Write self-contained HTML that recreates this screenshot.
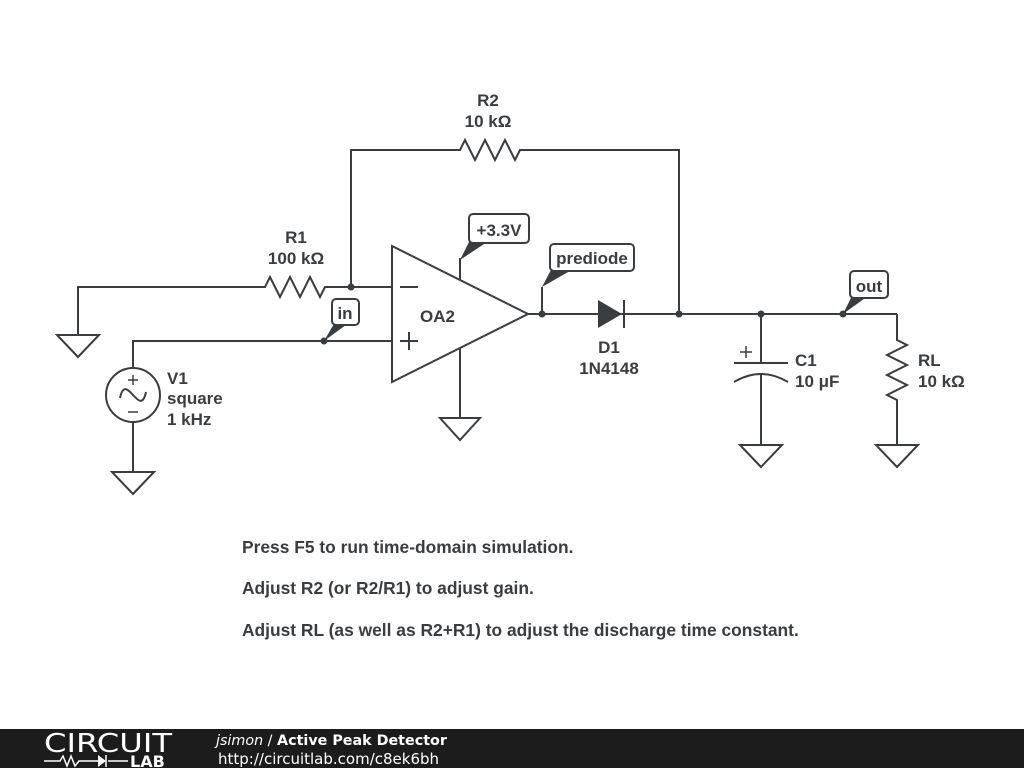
<!DOCTYPE html>
<html><head><style>
body{margin:0;width:1024px;height:768px;background:#fff;overflow:hidden;font-family:"Liberation Sans","DejaVu Sans",sans-serif}
</style></head><body>
<svg width="1024" height="768" viewBox="0 0 1024 768" xmlns="http://www.w3.org/2000/svg">
<g stroke="#3a3d40" stroke-width="2" fill="none">
<polyline points="78,335 78,287 265,287 270,277 280,297 290,277 300,297 310,277 320,297 325,287 392,287"/>
<polygon points="57,335 99,335 78,357"/>
<polyline points="351,287 351,150 460,150 465,140 475,160 485,140 495,160 505,140 515,160 520,150 679,150 679,314"/>
<polyline points="392,341 133,341 133,368"/>
<circle cx="133" cy="395" r="27"/>
<path d="M120,398 C126,370 140,420 146,392"/>
<line x1="128" y1="380" x2="138" y2="380" stroke-width="1.5"/><line x1="133" y1="375" x2="133" y2="385" stroke-width="1.5"/>
<line x1="128" y1="412" x2="138" y2="412" stroke-width="1.5"/>
<line x1="133" y1="422" x2="133" y2="472"/>
<polygon points="112,472 154,472 133,494"/>
<polygon points="392,246 392,382 528,314"/>
<line x1="400" y1="287" x2="418" y2="287"/>
<line x1="400" y1="341" x2="418" y2="341"/><line x1="409" y1="332" x2="409" y2="350"/>
<line x1="460" y1="280" x2="460" y2="258"/>
<line x1="460" y1="348" x2="460" y2="418"/>
<polygon points="440,418 480,418 460,440"/>
<line x1="528" y1="314" x2="897" y2="314"/>
<polyline points="542,314 542,287"/>
<line x1="761" y1="314" x2="761" y2="363"/>
<line x1="734" y1="363" x2="788" y2="363"/>
<path d="M734,382 Q761,366 788,382"/>
<line x1="761" y1="374" x2="761" y2="445"/>
<line x1="740" y1="352" x2="752" y2="352" stroke-width="1.5"/><line x1="746" y1="346" x2="746" y2="358" stroke-width="1.5"/>
<polygon points="740,445 782,445 761,467"/>
<polyline points="897,314 897,340 907,345 887,355 907,365 887,375 907,385 887,395 897,400 897,445"/>
<polygon points="876,445 918,445 897,467"/>
</g>
<polygon points="598,300 598,328 622,314" fill="#3a3d40"/>
<line x1="624" y1="300" x2="624" y2="328" stroke="#3a3d40" stroke-width="2"/>
<g fill="#3a3d40">
<circle cx="351" cy="287" r="3.5"/><circle cx="324" cy="341" r="3.5"/>
<circle cx="542" cy="314" r="3.5"/><circle cx="679" cy="314" r="3.5"/>
<circle cx="761" cy="314" r="3.5"/><circle cx="843" cy="314" r="3.5"/>
<polygon points="324,341 335,322 350,322"/>
<polygon points="460,260 470,240 490,240"/>
<polygon points="542,287 552,268 575,268"/>
<polygon points="843,314 852,296 868,296"/>
</g>
<g fill="#fff" stroke="#3a3d40" stroke-width="2">
<rect x="332" y="299" width="27" height="26" rx="4"/>
<rect x="469" y="214" width="60" height="29" rx="4"/>
<rect x="550" y="244" width="84" height="27" rx="4"/>
<rect x="850" y="271" width="38" height="27" rx="4"/>
</g>
<g fill="#3a3d40" font-weight="bold" font-size="17">
<text x="345" y="319" text-anchor="middle">in</text>
<text x="499" y="236" text-anchor="middle">+3.3V</text>
<text x="592" y="264" text-anchor="middle">prediode</text>
<text x="869" y="292" text-anchor="middle">out</text>
<text x="488" y="106" text-anchor="middle">R2</text>
<text x="488" y="127" text-anchor="middle">10 kΩ</text>
<text x="296" y="243" text-anchor="middle">R1</text>
<text x="296" y="264" text-anchor="middle">100 kΩ</text>
<text x="420" y="322">OA2</text>
<text x="609" y="353" text-anchor="middle">D1</text>
<text x="609" y="374" text-anchor="middle">1N4148</text>
<text x="167" y="384">V1</text>
<text x="167" y="404">square</text>
<text x="167" y="425">1 kHz</text>
<text x="795" y="366">C1</text>
<text x="795" y="387">10 μF</text>
<text x="918" y="366">RL</text>
<text x="918" y="387">10 kΩ</text>
</g>
<g fill="#3a3d40" font-weight="bold" font-size="17.4">
<text x="242" y="553">Press F5 to run time-domain simulation.</text>
<text x="242" y="594">Adjust R2 (or R2/R1) to adjust gain.</text>
<text x="242" y="636">Adjust RL (as well as R2+R1) to adjust the discharge time constant.</text>
</g>
<rect x="0" y="729" width="1024" height="39" fill="#1c1c1c"/>
<text x="44" y="752" fill="#fff" font-size="26" font-family="DejaVu Sans" font-weight="normal" textLength="128" lengthAdjust="spacingAndGlyphs">CIRCUIT</text>
<g stroke="#fff" stroke-width="1.5" fill="none"><polyline points="44,761 60,761 63,756 67,766 71,756 75,766 79,761 98,761"/><line x1="108" y1="761" x2="128" y2="761"/><line x1="106" y1="755" x2="106" y2="767"/></g>
<polygon points="98,755 98,767 106,761" fill="#fff"/>
<text x="130" y="767" fill="#fff" font-size="16" font-weight="bold" font-family="DejaVu Sans">LAB</text>
<text x="216" y="745" fill="#fff" font-size="14.3" font-family="DejaVu Sans"><tspan font-style="italic">jsimon</tspan> / <tspan font-weight="bold">Active Peak Detector</tspan></text>
<text x="218" y="764" fill="#fff" font-size="15" font-family="DejaVu Sans">http://circuitlab.com/c8ek6bh</text>
</svg>
</body></html>
